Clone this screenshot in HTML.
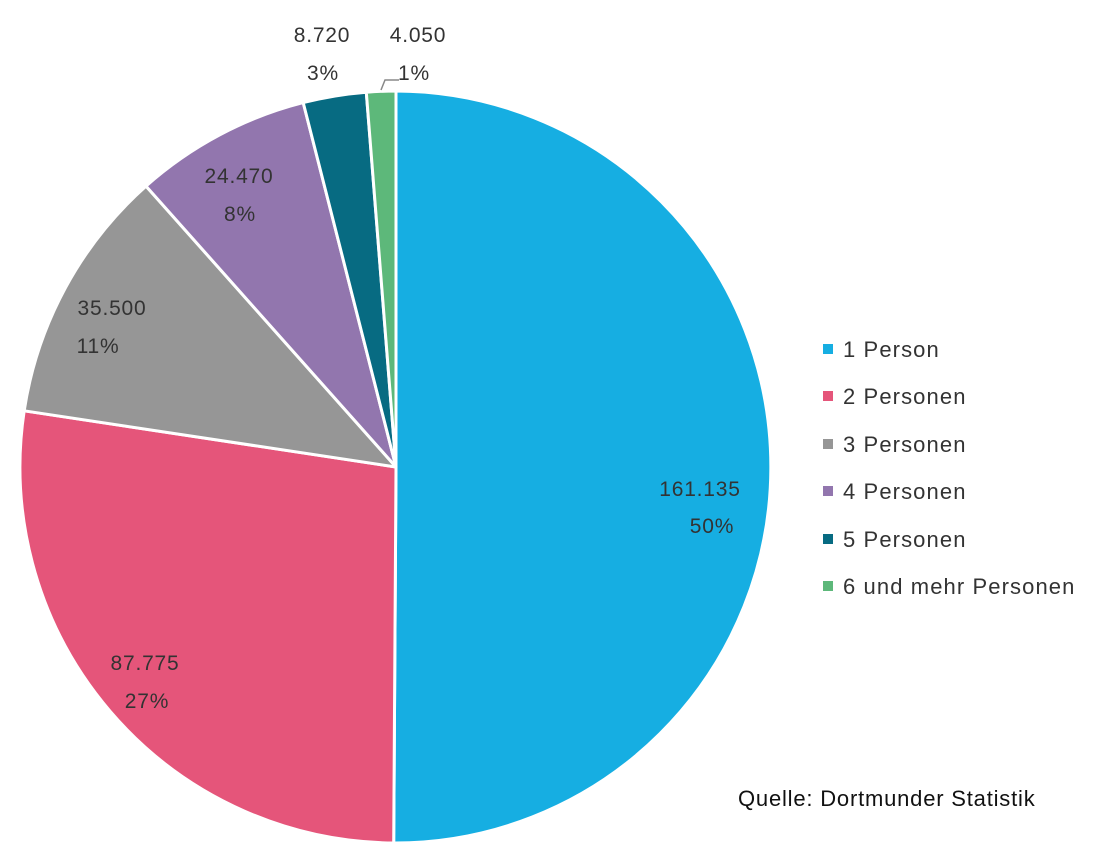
<!DOCTYPE html>
<html><head><meta charset="utf-8"><style>
html,body{margin:0;padding:0;background:#fff;}
svg{display:block;font-family:"Liberation Sans",sans-serif;}
</style></head><body>
<svg width="1111" height="859" viewBox="0 0 1111 859">
<g stroke="#fff" stroke-width="3" stroke-linejoin="round">
<path d="M396,467 L396,91 A376,376 0 0 1 393.7,843 Z" fill="#16aee2"/>
<path d="M396,467 L393.7,843 A376,376 0 0 1 24.2,410.8 Z" fill="#e5557a"/>
<path d="M396,467 L24.2,410.8 A376,376 0 0 1 146,186.1 Z" fill="#969696"/>
<path d="M396,467 L146,186.1 A376,376 0 0 1 303.2,102.6 Z" fill="#9276ae"/>
<path d="M396,467 L303.2,102.6 A376,376 0 0 1 366.3,92.2 Z" fill="#076b82"/>
<path d="M396,467 L366.3,92.2 A376,376 0 0 1 396,91 Z" fill="#5db87a"/>
</g>
<polyline points="381,90 385,80 399,80" fill="none" stroke="#888" stroke-width="1.5"/>
<g fill="#333" font-size="21" text-anchor="middle" letter-spacing="0.8">
<text x="700" y="496">161.135</text><text x="712" y="533">50%</text>
<text x="145" y="670">87.775</text><text x="147" y="708">27%</text>
<text x="112" y="315">35.500</text><text x="98" y="353">11%</text>
<text x="239" y="183">24.470</text><text x="240" y="221">8%</text>
<text x="322" y="42">8.720</text><text x="323" y="80">3%</text>
<text x="418" y="42">4.050</text><text x="414" y="80">1%</text>
</g>
<g font-size="22" fill="#333" letter-spacing="1.1">
<rect x="823" y="344" width="10" height="10" fill="#16aee2"/><text x="843" y="357">1 Person</text>
<rect x="823" y="391" width="10" height="10" fill="#e5557a"/><text x="843" y="404">2 Personen</text>
<rect x="823" y="439" width="10" height="10" fill="#969696"/><text x="843" y="452">3 Personen</text>
<rect x="823" y="486" width="10" height="10" fill="#9276ae"/><text x="843" y="499">4 Personen</text>
<rect x="823" y="534" width="10" height="10" fill="#076b82"/><text x="843" y="547">5 Personen</text>
<rect x="823" y="581" width="10" height="10" fill="#5db87a"/><text x="843" y="594">6 und mehr Personen</text>
</g>
<text x="738" y="806" font-size="22" fill="#111" letter-spacing="0.8">Quelle: Dortmunder Statistik</text>
</svg>
</body></html>
